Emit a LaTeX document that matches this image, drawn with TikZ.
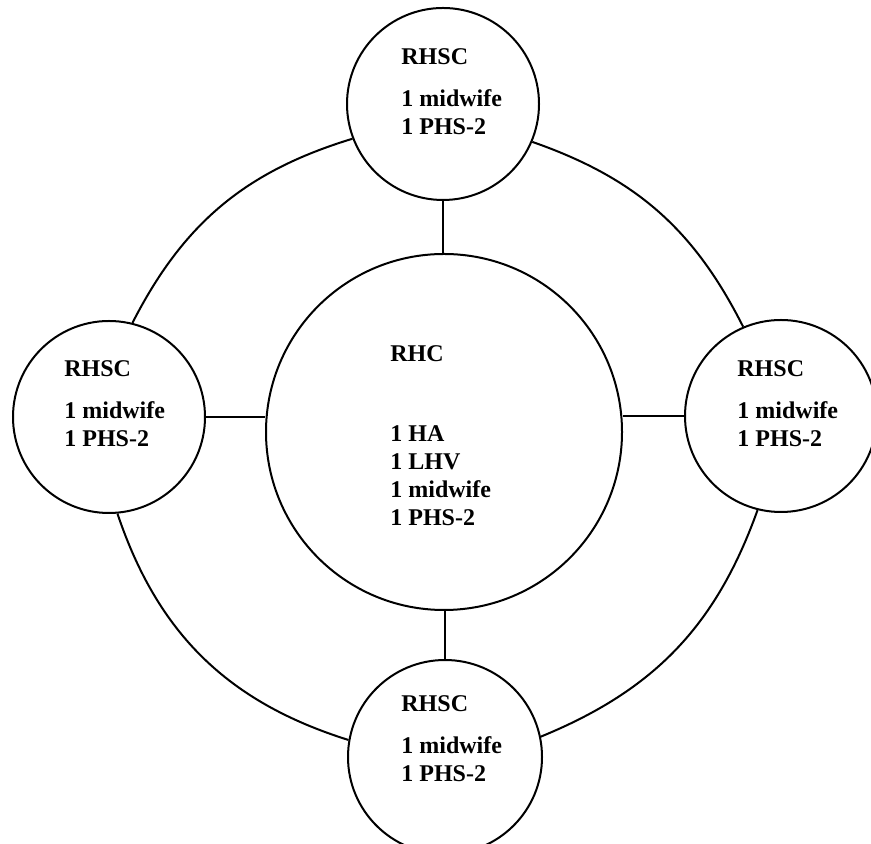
\documentclass[tikz,border=0pt]{standalone}
\usepackage{fontspec}
\setmainfont{Liberation Serif}

\begin{document}
\begin{tikzpicture}[x=0.5pt, y=0.5pt,
  site/.style={draw, circle, line width=1pt, inner sep=0pt},
  link/.style={line width=1pt},
  staff/.style={anchor=base west, align=left, inner sep=0pt,
    font=\fontsize{12}{14}\selectfont\bfseries}]
  \useasboundingbox (0,0) rectangle (871,844);
  \node[site, minimum size=178pt] (rhc) at (444,412) {};
  \node[site, minimum size=96pt] (sc-top) at (443,740) {};
  \node[site, minimum size=96pt] (sc-left) at (109,427) {};
  \node[site, minimum size=96pt] (sc-right) at (781,428) {};
  \node[site, minimum size=97pt] (sc-bottom) at (445,87) {};
  % Staff in each centre
  \node[staff] (rhc-text) at (390,318) {RHC\\[26pt]1 HA\\1 LHV\\1 midwife\\1 PHS-2};
  \node[staff] (sc-top-text) at (401,709) {RHSC\\[7pt]1 midwife\\1 PHS-2};
  \node[staff] (sc-left-text) at (64,397) {RHSC\\[7pt]1 midwife\\1 PHS-2};
  \node[staff] (sc-right-text) at (737,397) {RHSC\\[7pt]1 midwife\\1 PHS-2};
  \node[staff] (sc-bottom-text) at (401,62) {RHSC\\[7pt]1 midwife\\1 PHS-2};
  % Draw the links to the RHC
  \draw[link] (sc-top) -- (sc-top |- rhc.north);
  \draw[link] (sc-left) -- (sc-left -| rhc.west);
  \draw[link] (sc-right) -- (sc-right -| rhc.east);
  \draw[link] (sc-bottom) -- (sc-bottom |- rhc.south);
  % Draw the ring between the sub-centres
  \draw[link] (sc-top.201) to[bend right=23] (sc-left.76);
  \draw[link] (sc-top.337) to[bend left=22] (sc-right.113);
  \draw[link] (sc-left.275) to[bend right=27] (sc-bottom.170);
  \draw[link] (sc-right.256) to[bend left=24] (sc-bottom.12);
\end{tikzpicture}
\end{document}
